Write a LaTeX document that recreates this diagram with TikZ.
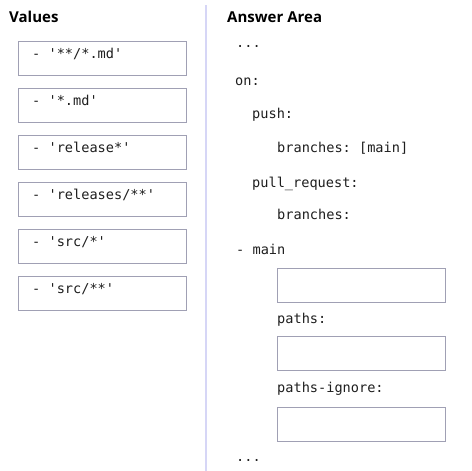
\documentclass[tikz,border=0pt]{standalone}
\usepackage{fontspec}
\setmainfont{Open Sans}
\setmonofont{DejaVu Sans Mono}
\usepackage{tikz}

\definecolor{boxgray}{RGB}{160,160,180}
\definecolor{rulelav}{RGB}{214,214,246}
\definecolor{codeink}{RGB}{30,30,30}

\tikzset{
  valuebox/.style={draw=boxgray, line width=1.1pt, anchor=north west,
    minimum width=168pt, minimum height=34pt, inner sep=0pt},
  slotbox/.style={valuebox},
  code/.style={anchor=base west, inner sep=0pt,
    font=\ttfamily\fontsize{13.6}{16}\selectfont, text=codeink},
  heading/.style={anchor=base west, inner sep=0pt,
    font=\bfseries\fontsize{15}{18}\selectfont}
}

\begin{document}
\begin{tikzpicture}[x=1pt, y=-1pt]
  \useasboundingbox (0,0) rectangle (472,471);

  % Headings
  \node[heading] (values) at (9,22) {Values};
  \node[heading] (answer) at (227,22) {Answer Area};

  % Divider
  \draw[rulelav, line width=1.5pt] (206,5) -- (206,471);

  % Values
  \node[valuebox] (v1) at (18,41) {};
  \node[code] (v1t) at (32,58) {- '**/*.md'};
  \node[valuebox] (v2) at (18,88) {};
  \node[code] (v2t) at (32,105) {- '*.md'};
  \node[valuebox] (v3) at (18,135) {};
  \node[code] (v3t) at (32,152) {- 'release*'};
  \node[valuebox] (v4) at (18,182) {};
  \node[code] (v4t) at (32,199) {- 'releases/**'};
  \node[valuebox] (v5) at (18,229) {};
  \node[code] (v5t) at (32,246) {- 'src/*'};
  \node[valuebox] (v6) at (18,276) {};
  \node[code] (v6t) at (32,293) {- 'src/**'};

  % Answer area
  \node[code] (dots1) at (236,48) {...};
  \node[code] (on) at (235,85) {on:};
  \node[code] (push) at (252,118) {push:};
  \node[code] (pbranch) at (277,152) {branches: [main]};
  \node[code] (pr) at (252,187) {pull\_request:};
  \node[code] (prbranch) at (277,219) {branches:};
  \node[code] (main) at (236,254) {- main};
  \node[slotbox] (slot1) at (277,268) {};
  \node[code] (paths) at (277,323) {paths:};
  \node[slotbox] (slot2) at (277,336) {};
  \node[code] (ignore) at (277,392) {paths-ignore:};
  \node[slotbox] (slot3) at (277,407) {};
  \node[code] (dots2) at (236,461) {...};
\end{tikzpicture}
\end{document}
